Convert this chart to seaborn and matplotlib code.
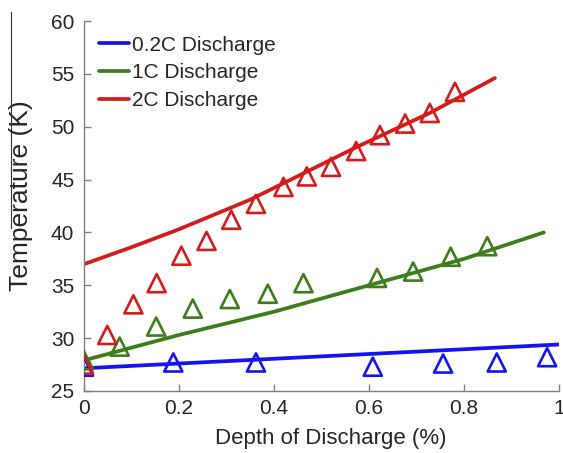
import matplotlib
matplotlib.use("Agg")
import matplotlib.pyplot as plt
from matplotlib.lines import Line2D
import seaborn as sns
import pandas as pd

# ---- data ----
# simulated curves
line_02c_x = [0.0, 0.2, 0.4, 0.6, 0.8, 1.0]
line_02c_y = [27.15, 27.6, 28.05, 28.5, 28.95, 29.4]

line_1c_x = [0.0, 0.2, 0.4, 0.6, 0.8, 0.968]
line_1c_y = [27.9, 30.3, 32.5, 35.0, 37.5, 40.0]

line_2c_x = [0.0, 0.1, 0.2, 0.35, 0.575, 0.728, 0.865]
line_2c_y = [37.0, 38.6, 40.3, 43.1, 48.1, 51.3, 54.6]

# measured points
pts_02c_x = [0.0, 0.188, 0.362, 0.608, 0.756, 0.869, 0.975]
pts_02c_y = [27.3, 27.7, 27.7, 27.3, 27.6, 27.7, 28.2]

pts_1c_x = [0.0, 0.075, 0.152, 0.229, 0.307, 0.387, 0.462, 0.617, 0.693, 0.772, 0.849]
pts_1c_y = [27.9, 29.2, 31.1, 32.8, 33.7, 34.2, 35.2, 35.7, 36.3, 37.7, 38.7]

pts_2c_x = [0.0, 0.049, 0.104, 0.153, 0.205, 0.258, 0.31, 0.362, 0.42,
            0.469, 0.52, 0.573, 0.623, 0.676, 0.728, 0.781]
pts_2c_y = [27.5, 30.3, 33.2, 35.2, 37.8, 39.2, 41.2, 42.7, 44.3,
            45.3, 46.2, 47.7, 49.2, 50.3, 51.3, 53.3]

labels = ["0.2C Discharge", "1C Discharge", "2C Discharge"]
colors = ["#1414f0", "#3d7d1c", "#d41c1c"]

x_ticks = [0, 0.2, 0.4, 0.6, 0.8, 1]
x_ticklabels = ["0", "0.2", "0.4", "0.6", "0.8", "1"]
y_ticks = [25, 30, 35, 40, 45, 50, 55, 60]

# ---- figure ----
sns.set_style("white")
plt.rcParams["font.family"] = ["Liberation Sans", "DejaVu Sans"]

fig = plt.figure(figsize=(5.63, 4.53), dpi=100)
ax = fig.add_axes([84 / 563, 1 - 391 / 453, 475 / 563, 370 / 453])

lines = [(line_02c_x, line_02c_y), (line_1c_x, line_1c_y), (line_2c_x, line_2c_y)]
pts = [(pts_02c_x, pts_02c_y), (pts_1c_x, pts_1c_y), (pts_2c_x, pts_2c_y)]

handles = []
for (lx, ly), (px, py), lab, col in zip(lines, pts, labels, colors):
    dl = pd.DataFrame({"x": lx, "y": ly})
    sns.lineplot(data=dl, x="x", y="y", ax=ax, color=col, lw=2.7, sort=False,
                 estimator=None)
    dp = pd.DataFrame({"x": px, "y": py})
    sns.scatterplot(data=dp, x="x", y="y", ax=ax, marker="^", s=170,
                    facecolor="none", edgecolor=col, linewidth=1.9, zorder=3)
    handles.append(Line2D([], [], color=col, lw=2.7, label=lab))

ax.set_xlim(0, 1)
ax.set_ylim(25, 60)
ax.set_xticks(x_ticks)
ax.set_xticklabels(x_ticklabels)
ax.set_yticks(y_ticks)
ax.tick_params(direction="in", length=5, width=1, color="#808080",
               labelsize=15, pad=7, left=True, bottom=True)
ax.tick_params(axis="x", pad=6)
for side in ["top", "right"]:
    ax.spines[side].set_visible(False)
for side in ["left", "bottom"]:
    ax.spines[side].set_color("#808080")
    ax.spines[side].set_linewidth(1.0)

ax.set_xlabel("Depth of Discharge (%)", fontsize=16, labelpad=6)
ax.xaxis.set_label_coords(0.52, -0.1)
ax.set_ylabel("Temperature (K)", fontsize=19, labelpad=10)
ax.yaxis.set_label_coords(-0.107, 0.527)

ax.legend(handles=handles, loc="upper left", frameon=False, fontsize=15,
          handlelength=1.45, handletextpad=0.15, labelspacing=0.42,
          borderaxespad=0.4, borderpad=0.3)

# thin vertical rule seen left of the y label in the reference
fig.add_artist(Line2D([11 / 563, 11 / 563], [1 - 12 / 453, 1 - 228 / 453],
                      transform=fig.transFigure, color="#333333", lw=0.8))

fig.savefig("out.png", dpi=100)
